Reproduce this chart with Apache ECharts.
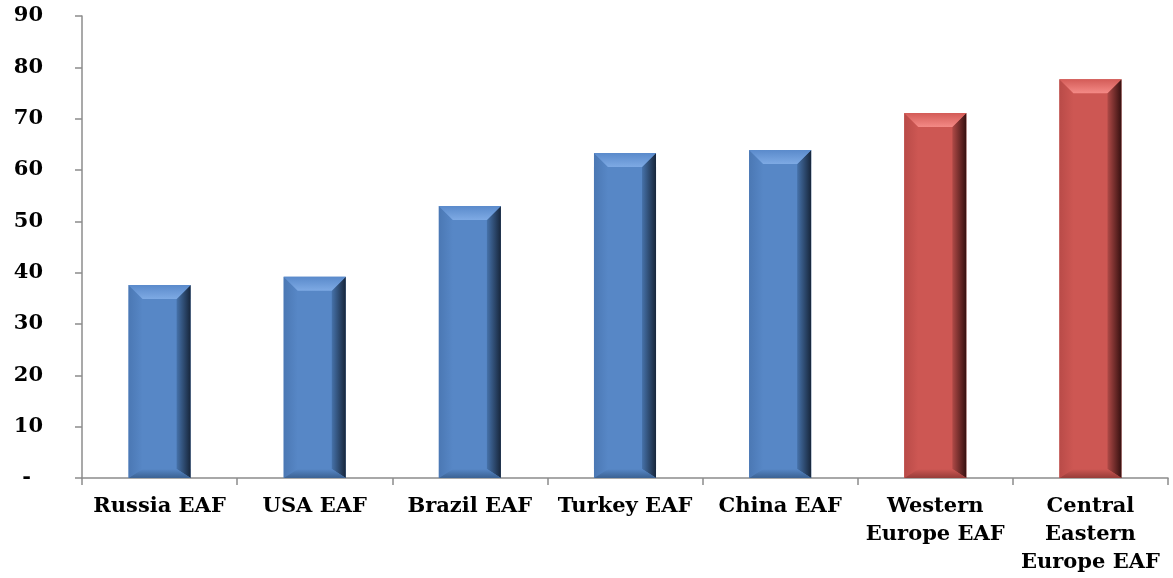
<!DOCTYPE html>
<html>
<head>
<meta charset="utf-8">
<script src="https://cdn.jsdelivr.net/npm/echarts@6/dist/echarts.min.js"></script>
<style>html,body{margin:0;padding:0;background:#fff}#c{width:1173px;height:578px}</style>
</head>
<body>
<div id="c"></div>
<script>
const categories = ['Russia EAF', 'USA EAF', 'Brazil EAF', 'Turkey EAF', 'China EAF', 'Western\nEurope EAF', 'Central\nEastern\nEurope EAF'];
const values = [37.6, 39.2, 53.0, 63.3, 63.9, 71.1, 77.7];
const groups = ['other', 'other', 'other', 'other', 'other', 'europe', 'europe'];
const yTicks = [0, 10, 20, 30, 40, 50, 60, 70, 80, 90];

const palette = {
  other:  { main: '#5787c6', left: '#4b78b4', topEdge: '#5a8acb', topIn: '#7eaae4', rightIn: '#4672aa', rightOut: '#17263b', bottom: '#3b6293' },
  europe: { main: '#cd5753', left: '#b94b48', topEdge: '#d35b57', topIn: '#f48a86', rightIn: '#b04a47', rightOut: '#361010', bottom: '#973c39' }
};

function renderItem(params, api) {
  const i = api.value(0);
  const v = api.value(1);
  const p = palette[groups[params.dataIndex]];
  const top = api.coord([i, v]);
  const base = api.coord([i, 0]);
  const bw = api.size([1, 0])[0] * 0.40;
  const x0 = top[0] - bw / 2, x1 = top[0] + bw / 2;
  const y0 = top[1], y1 = base[1];
  const t = 14, s = 14, b = 9;
  const lin = (x, y, x2, y2, c1, c2) => new echarts.graphic.LinearGradient(x, y, x2, y2, [{offset: 0, color: c1}, {offset: 1, color: c2}]);
  return {
    type: 'group',
    children: [
      { type: 'rect', shape: { x: x0, y: y0, width: bw, height: y1 - y0 }, style: { fill: p.main } },
      { type: 'polygon', shape: { points: [[x0, y0], [x0 + s, y0 + t], [x0 + s, y1 - b], [x0, y1]] },
        style: { fill: lin(0, 0, 1, 0, p.left, p.main) } },
      { type: 'polygon', shape: { points: [[x1, y0], [x1, y1], [x1 - s, y1 - b], [x1 - s, y0 + t]] },
        style: { fill: lin(0, 0, 1, 0, p.rightIn, p.rightOut) } },
      { type: 'polygon', shape: { points: [[x0, y0], [x1, y0], [x1 - s, y0 + t], [x0 + s, y0 + t]] },
        style: { fill: lin(0, 0, 0, 1, p.topEdge, p.topIn) } },
      { type: 'polygon', shape: { points: [[x0, y1], [x0 + s, y1 - b], [x1 - s, y1 - b], [x1, y1]] },
        style: { fill: lin(0, 0, 0, 1, p.main, p.bottom) } }
    ]
  };
}

const chart = echarts.init(document.getElementById('c'), null, { renderer: 'canvas' });
const font = 'DejaVu Serif';
chart.setOption({
  animation: false,
  backgroundColor: '#ffffff',
  grid: { left: 82, right: 5, top: 16, bottom: 100, containLabel: false },
  xAxis: {
    type: 'category',
    data: categories,
    boundaryGap: true,
    axisLine: { lineStyle: { color: '#8c8c8c', width: 1.5 } },
    axisTick: { show: true, alignWithLabel: false, length: 7, lineStyle: { color: '#8c8c8c', width: 1.5 } },
    axisLabel: { interval: 0, margin: 15, color: '#000', fontFamily: font, fontWeight: 'bold', fontSize: 21, lineHeight: 28, align: 'center' }
  },
  yAxis: {
    type: 'value',
    min: yTicks[0],
    max: yTicks[yTicks.length - 1],
    interval: 10,
    splitLine: { show: false },
    axisLine: { show: true, lineStyle: { color: '#8c8c8c', width: 1.5 } },
    axisTick: { show: true, length: 7, lineStyle: { color: '#8c8c8c', width: 1.5 } },
    axisLabel: {
      margin: 39, color: '#000', fontFamily: font, fontWeight: 'bold', fontSize: 21,
      formatter: v => v === 0 ? '{d|-}' : String(v),
      rich: { d: { padding: [0, 12, 0, 0], fontFamily: font, fontWeight: 'bold', fontSize: 21, color: '#000' } }
    }
  },
  series: [{
    type: 'custom',
    renderItem: renderItem,
    encode: { x: 0, y: 1 },
    data: values.map((v, i) => [i, v])
  }]
});
</script>
</body>
</html>
